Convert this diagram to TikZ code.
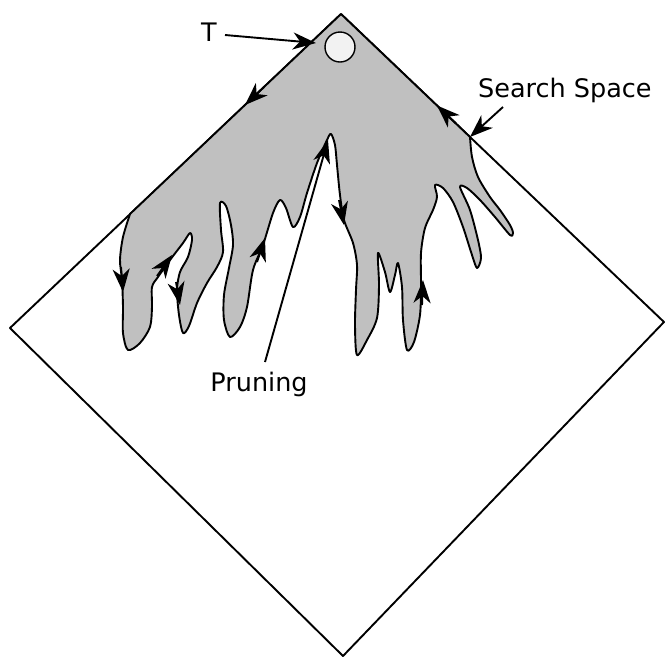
\documentclass[tikz,border=0pt]{standalone}
\usepackage{fontspec}
\setmainfont{DejaVu Sans}
\usetikzlibrary{arrows.meta}
\definecolor{spacegray}{RGB}{192,192,192}
\definecolor{rootgray}{RGB}{242,242,242}
\tikzset{
  head/.style={-{Stealth[length=23pt,width=17pt,inset=7pt]}, line width=1.9pt},
  edgeline/.style={line width=1.9pt, line join=round},
  label text/.style={font=\fontsize{25.5}{30}\selectfont, inner sep=0pt}}

\begin{document}
\begin{tikzpicture}[x=1pt,y=-1pt]
        \useasboundingbox (0,0) rectangle (665,657);

        % the whole search space
        \coordinate (top) at (341,14);
        \coordinate (left) at (10,328);
        \coordinate (bottom) at (343,656);
        \coordinate (right) at (664,322);
        \draw[edgeline, fill=white] (top) -- (left) -- (bottom) -- (right) -- cycle;

        % the part that is explored
        \filldraw[edgeline, fill=spacegray] (top) -- plot[smooth, tension=0.5] coordinates {
          (130,214) (123,237) (120,260) (122,280) (123,307) (123,333) (128,350)
          (140,343) (150,327) (152,307) (152,287) (158,277) (170,260) (183,243)
          (190,233) (192,240) (188,257) (180,272) (177,290) (179,315) (183,333)
          (189,326) (197,303) (207,283) (217,267) (223,252) (221,230) (220,203)
          (226,206) (231,225) (233,245) (229,268) (224,295) (224,320) (230,337)
          (240,327) (247,307) (253,270) (263,245) (273,213) (280,200) (286,208)
          (293,227) (300,217) (307,193) (317,163) (327,140) (331,134) (335,145)
          (337,165) (340,195) (344,220) (353,243) (357,265) (356,290) (355,325)
          (357,355) (367,340) (377,318) (379,285) (378,253) (385,272) (390,292)
          (395,275) (398,263) (402,287) (403,320) (407,350) (414,342) (420,315)
          (421,285) (421,253) (425,228) (433,210) (437,197) (435,185) (443,188)
          (453,202) (463,227) (472,255) (477,268) (481,258) (478,240) (470,210)
          (460,187) (467,188) (480,200) (495,217) (510,235) (513,233) (510,225)
          (500,210) (490,197) (478,177) (472,157) (470,137)} -- cycle;

        % direction of the search
        \foreach \a/\b in {{456,123.5}/{437,105.5}, {264,87}/{245,105},
          {121,267}/{123,292}, {157,276}/{172,255}, {176,282}/{180,305},
          {257,262}/{265,238}, {339,200}/{344,225}, {422,305}/{423,280}} {
          \draw[head] (\a) -- (\b);
        }

        \node[draw, line width=1.4pt, fill=rootgray, circle, minimum size=30pt, inner sep=0pt](root) at (340,47) {};

        \node[label text, anchor=base](t) at (209,41) {T};
        \node[label text, anchor=base west](ss) at (478,97) {Search Space};
        \node[label text, anchor=base](pr) at (259,391) {Pruning};

        \coordinate (t end) at (316,43);
        \coordinate (ss end) at (470,137);
        \coordinate (pr end) at (328,140);
        \draw[head] (225,35) -- (t end);
        \draw[head] (503,107) -- (ss end);
        \draw[head] (265,362) -- (pr end);
      \end{tikzpicture}
\end{document}
